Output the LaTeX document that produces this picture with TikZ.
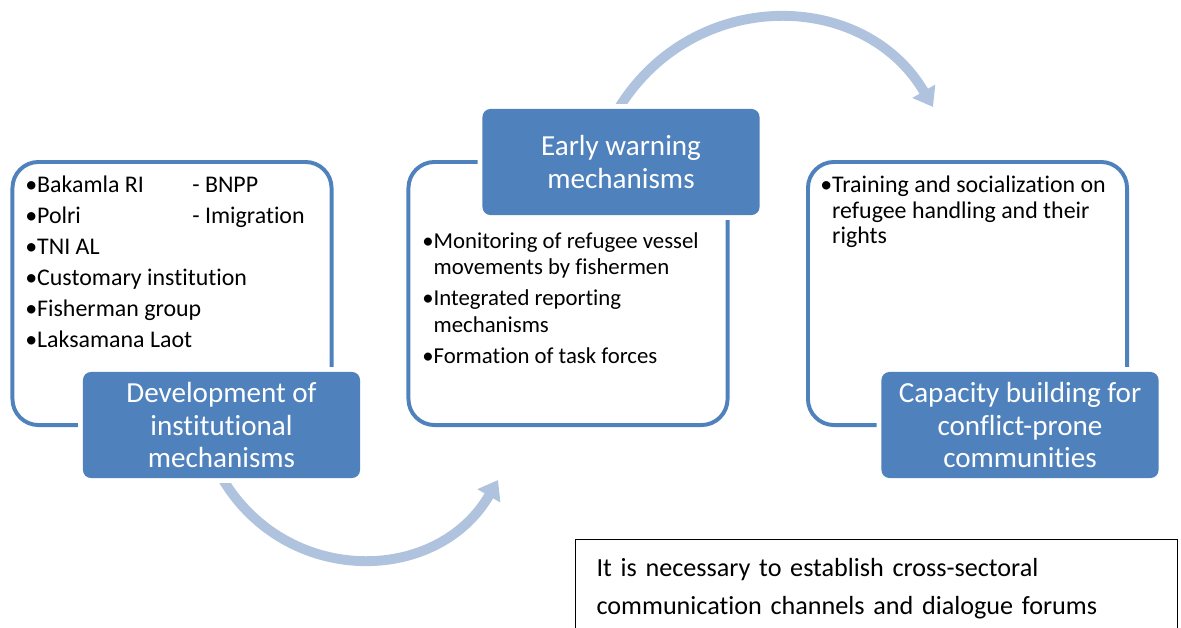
\documentclass[tikz,border=0pt]{standalone}
\usepackage{fontspec}
\setmainfont{Carlito}[Ligatures=NoCommon]
\usetikzlibrary{arrows.meta}
\definecolor{boxblue}{HTML}{4F81BD}
\definecolor{arrowblue}{HTML}{B0C3DE}

\begin{document}
\begin{tikzpicture}[x=0.025cm, y=-0.025cm,
    groupbox/.style={draw=boxblue, line width=2.8pt, rounded corners=0.65cm, minimum width=7.975cm, minimum height=6.575cm},
    headbox/.style={fill=boxblue, rounded corners=0.2cm, preaction={draw=white, line width=7pt}, minimum width=6.925cm, minimum height=2.65cm, text=white, align=center, font=\fontsize{20.7}{22.8}\selectfont},
    bullets/.style={anchor=north west, inner sep=0pt, align=left, font=\fontsize{17}{19}\selectfont},
    cyclearrow/.style={draw=arrowblue, line width=7pt, -{Triangle[width=18pt, length=13pt]}}]
    \useasboundingbox (0,0) rectangle (1181,627);
    \clip (0,0) rectangle (1181,627);

    \node[groupbox] (g1) at (172,293.5) {};
    \node[groupbox] (g2) at (568,293.5) {};
    \node[groupbox] (g3) at (967.5,293.5) {};

    \node[bullets] (l1) at (25,176) {\makebox[4.175cm][l]{•Bakamla RI}- BNPP\\[3pt]
        \makebox[4.175cm][l]{•Polri}- Imigration\\[3pt]
        •TNI AL\\[3pt]
        •Customary institution\\[3pt]
        •Fisherman group\\[3pt]
        •Laksamana Laot};
    \node[bullets, font=\fontsize{16.2}{19}\selectfont] (l2) at (422,232) {•Monitoring of refugee vessel\\
        \hphantom{•}movements by fishermen\\[3pt]
        •Integrated reporting\\
        \hphantom{•}mechanisms\\[3pt]
        •Formation of task forces};
    \node[bullets, font=\fontsize{17}{18.3}\selectfont] (l3) at (820,175.5) {•Training and socialization on\\
        \hphantom{•}refugee handling and their\\
        \hphantom{•}rights};

    \coordinate (a1s) at (222.4,478.7);
    \coordinate (a1e) at (498,480);
    \coordinate (a2s) at (618.8,108.1);
    \coordinate (a2e) at (933,107);
    \draw[cyclearrow] (a1s) .. controls (287,587) and (437.5,584.7) .. (a1e);
    \draw[cyclearrow] (a2s) .. controls (694,-13.4) and (864,-11) .. (a2e);

    \node[headbox] (h1) at (221.5,425) {Development of\\institutional\\mechanisms};
    \node[headbox] (h2) at (621,162) {Early warning\\mechanisms};
    \node[headbox] (h3) at (1020,425) {Capacity building for\\conflict-prone\\communities};

    \node[draw=black, line width=0.8pt, anchor=north west, inner xsep=0.525cm, inner ysep=13.5pt, text width=14cm, align=left, font=\fontsize{18.6}{27}\selectfont] (note) at (575,539) {It is necessary to establish cross-sectoral\\communication channels and dialogue forums};
\end{tikzpicture}
\end{document}
